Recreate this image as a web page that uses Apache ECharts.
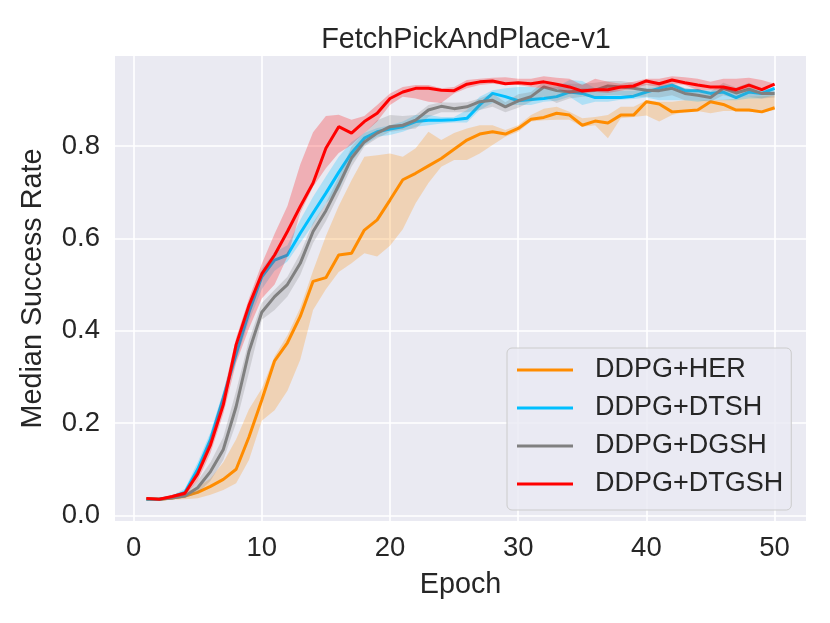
<!DOCTYPE html>
<html>
<head>
<meta charset="utf-8">
<script src="https://cdn.jsdelivr.net/npm/echarts@6/dist/echarts.min.js"></script>
<style>html,body{margin:0;padding:0;background:#fff}#c{width:830px;height:623px}</style>
</head>
<body>
<div id="c"></div>
<script>
const epochs = [1,2,3,4,5,6,7,8,9,10,11,12,13,14,15,16,17,18,19,20,21,22,23,24,25,26,27,28,29,30,31,32,33,34,35,36,37,38,39,40,41,42,43,44,45,46,47,48,49,50];
const xTicks = [0,10,20,30,40,50];
const yTicks = [0.0,0.2,0.4,0.6,0.8];

const herMid = [0.036,0.035,0.038,0.042,0.05,0.063,0.078,0.10,0.17,0.25,0.335,0.374,0.431,0.507,0.515,0.564,0.568,0.618,0.64,0.683,0.727,0.741,0.757,0.773,0.793,0.813,0.826,0.831,0.826,0.838,0.858,0.862,0.871,0.867,0.845,0.854,0.85,0.867,0.867,0.896,0.891,0.874,0.876,0.878,0.896,0.89,0.878,0.878,0.874,0.883];
const herLow = [0.033,0.032,0.034,0.035,0.037,0.045,0.055,0.07,0.12,0.205,0.228,0.27,0.337,0.445,0.49,0.527,0.546,0.568,0.561,0.584,0.62,0.676,0.72,0.755,0.77,0.77,0.784,0.802,0.82,0.831,0.853,0.856,0.857,0.857,0.842,0.845,0.817,0.86,0.863,0.866,0.853,0.867,0.874,0.876,0.871,0.876,0.876,0.874,0.872,0.878];
const herHigh = [0.039,0.038,0.042,0.05,0.062,0.08,0.115,0.165,0.23,0.275,0.345,0.39,0.45,0.53,0.605,0.67,0.726,0.777,0.78,0.784,0.777,0.795,0.831,0.813,0.828,0.838,0.845,0.845,0.835,0.845,0.867,0.881,0.885,0.874,0.86,0.863,0.867,0.885,0.885,0.899,0.896,0.896,0.899,0.899,0.899,0.9,0.903,0.907,0.908,0.91];

const dtshMid = [0.035,0.035,0.04,0.05,0.10,0.165,0.255,0.35,0.44,0.517,0.553,0.564,0.611,0.655,0.698,0.743,0.785,0.817,0.831,0.837,0.842,0.853,0.856,0.856,0.857,0.86,0.889,0.914,0.907,0.898,0.901,0.903,0.907,0.917,0.914,0.905,0.905,0.905,0.908,0.917,0.925,0.932,0.92,0.92,0.914,0.917,0.905,0.917,0.914,0.925];
const dtshLow = [0.033,0.033,0.037,0.043,0.085,0.15,0.24,0.335,0.42,0.49,0.53,0.55,0.59,0.63,0.676,0.705,0.766,0.802,0.82,0.824,0.831,0.842,0.845,0.849,0.851,0.851,0.878,0.893,0.889,0.889,0.889,0.896,0.898,0.907,0.889,0.896,0.896,0.9,0.902,0.905,0.899,0.899,0.899,0.896,0.899,0.899,0.899,0.903,0.903,0.91];
const dtshHigh = [0.037,0.037,0.043,0.058,0.115,0.18,0.27,0.365,0.455,0.535,0.57,0.585,0.64,0.69,0.734,0.777,0.809,0.828,0.839,0.845,0.853,0.867,0.867,0.863,0.863,0.878,0.907,0.921,0.925,0.928,0.928,0.925,0.928,0.943,0.941,0.925,0.922,0.92,0.92,0.925,0.928,0.935,0.925,0.921,0.921,0.921,0.917,0.923,0.921,0.928];

const dgshMid = [0.035,0.035,0.038,0.042,0.06,0.095,0.143,0.236,0.355,0.44,0.474,0.5,0.546,0.615,0.66,0.715,0.774,0.809,0.828,0.842,0.845,0.856,0.878,0.886,0.881,0.885,0.896,0.899,0.885,0.898,0.907,0.928,0.92,0.917,0.921,0.921,0.93,0.928,0.925,0.921,0.92,0.925,0.914,0.91,0.905,0.925,0.915,0.923,0.914,0.914];
const dgshLow = [0.033,0.033,0.035,0.038,0.048,0.075,0.12,0.2,0.31,0.424,0.445,0.474,0.521,0.59,0.637,0.694,0.755,0.799,0.817,0.831,0.835,0.838,0.863,0.873,0.873,0.873,0.878,0.885,0.873,0.883,0.896,0.907,0.893,0.903,0.907,0.907,0.91,0.91,0.907,0.907,0.905,0.91,0.899,0.899,0.896,0.91,0.903,0.907,0.903,0.905];
const dgshHigh = [0.038,0.038,0.041,0.048,0.075,0.115,0.17,0.27,0.38,0.46,0.489,0.517,0.568,0.634,0.676,0.734,0.799,0.828,0.856,0.867,0.865,0.867,0.889,0.895,0.894,0.895,0.903,0.914,0.895,0.912,0.917,0.94,0.935,0.935,0.935,0.937,0.941,0.941,0.937,0.935,0.934,0.937,0.925,0.923,0.918,0.937,0.927,0.937,0.925,0.92];

const dtgshMid = [0.037,0.035,0.041,0.048,0.09,0.153,0.24,0.37,0.455,0.523,0.564,0.615,0.669,0.72,0.795,0.842,0.828,0.853,0.871,0.903,0.917,0.925,0.925,0.921,0.92,0.934,0.939,0.941,0.935,0.937,0.935,0.939,0.934,0.928,0.919,0.922,0.922,0.928,0.93,0.941,0.935,0.943,0.937,0.932,0.928,0.928,0.922,0.932,0.922,0.934];
const dtgshLow = [0.034,0.033,0.037,0.043,0.075,0.135,0.22,0.33,0.405,0.47,0.5,0.56,0.655,0.712,0.752,0.785,0.802,0.828,0.853,0.889,0.907,0.903,0.896,0.893,0.914,0.925,0.932,0.935,0.932,0.932,0.928,0.925,0.924,0.914,0.914,0.917,0.915,0.92,0.925,0.932,0.928,0.935,0.932,0.921,0.921,0.921,0.917,0.925,0.92,0.932];
const dtgshHigh = [0.04,0.038,0.044,0.053,0.1,0.17,0.265,0.385,0.47,0.545,0.61,0.67,0.76,0.83,0.865,0.868,0.857,0.865,0.889,0.914,0.928,0.932,0.932,0.925,0.928,0.943,0.946,0.948,0.949,0.946,0.946,0.951,0.948,0.946,0.932,0.946,0.939,0.935,0.939,0.946,0.946,0.951,0.949,0.946,0.939,0.946,0.946,0.948,0.943,0.935];

const names = ['DDPG+HER','DDPG+DTSH','DDPG+DGSH','DDPG+DTGSH'];
const colors = ['#FF8C00','#00BFFF','#808080','#FF0000'];
const bandColors = ['rgba(255,140,0,0.25)','rgba(0,191,255,0.25)','rgba(128,128,128,0.25)','rgba(255,0,0,0.25)'];
const mids = [herMid, dtshMid, dgshMid, dtgshMid];
const lows = [herLow, dtshLow, dgshLow, dtgshLow];
const highs = [herHigh, dtshHigh, dgshHigh, dtgshHigh];

const FONT = 'Liberation Sans, Arial, Helvetica, sans-serif';
const TXT = '#262626';

function bandSeries(k) {
  const lo = lows[k], hi = highs[k];
  return {
    type: 'custom',
    name: names[k] + ' band',
    silent: true,
    z: 1 + 2 * k,
    data: epochs.map((e, i) => [e, lo[i], hi[i]]),
    encode: { x: 0, y: [1, 2] },
    renderItem: function (params, api) {
      if (params.dataIndex !== 0) return null;
      const pts = [];
      for (let i = 0; i < epochs.length; i++) pts.push(api.coord([epochs[i], hi[i]]));
      for (let i = epochs.length - 1; i >= 0; i--) pts.push(api.coord([epochs[i], lo[i]]));
      return { type: 'polygon', shape: { points: pts }, style: { fill: bandColors[k], stroke: null } };
    }
  };
}
function lineSeries(k) {
  return {
    type: 'line',
    name: names[k],
    z: 2 + 2 * k,
    data: epochs.map((e, i) => [e, mids[k][i]]),
    showSymbol: false,
    symbol: 'none',
    animation: false,
    lineStyle: { color: colors[k], width: 3 },
    itemStyle: { color: colors[k] }
  };
}
const series = [];
for (let k = 0; k < 4; k++) { series.push(bandSeries(k)); series.push(lineSeries(k)); }

const chart = echarts.init(document.getElementById('c'), null, { renderer: 'canvas' });
chart.setOption({
  animation: false,
  backgroundColor: '#ffffff',
  textStyle: { fontFamily: FONT, color: TXT },
  title: {
    text: 'FetchPickAndPlace-v1',
    left: 461, top: 21, textAlign: 'center',
    textStyle: { fontFamily: FONT, fontSize: 28.8, fontWeight: 'normal', color: TXT }
  },
  grid: { left: 115, right: 24, top: 56, bottom: 102, show: true, backgroundColor: '#EAEAF2', borderWidth: 0, containLabel: false },
  xAxis: {
    type: 'value', min: -1.45, max: 52.45,
    name: 'Epoch', nameLocation: 'middle', nameGap: 50,
    nameTextStyle: { fontFamily: FONT, fontSize: 28.8, color: TXT },
    axisLine: { show: false },
    axisTick: { show: false, customValues: xTicks },
    axisLabel: { customValues: xTicks, fontFamily: FONT, fontSize: 27.5, color: TXT, margin: 13 },
    splitLine: { show: true, lineStyle: { color: '#ffffff', width: 1.6 } }
  },
  yAxis: {
    type: 'value', min: -0.012, max: 0.995,
    name: 'Median Success Rate', nameLocation: 'middle', nameGap: 67,
    nameTextStyle: { fontFamily: FONT, fontSize: 28.8, color: TXT },
    axisLine: { show: false },
    axisTick: { show: false, customValues: yTicks },
    axisLabel: { customValues: yTicks, fontFamily: FONT, fontSize: 27.5, color: TXT, margin: 15,
      formatter: v => Number(v).toFixed(1) },
    splitLine: { show: true, lineStyle: { color: '#ffffff', width: 1.6 } }
  },
  legend: {
    data: names.map(n => ({ name: n, icon: 'rect' })),
    orient: 'vertical',
    left: 507, top: 348,
    z: 20,
    padding: [7, 8, 11, 10],
    itemWidth: 56, itemHeight: 3, itemGap: 8,
    backgroundColor: 'rgba(234,234,242,0.8)',
    borderColor: '#cccccc', borderWidth: 1, borderRadius: 5,
    textStyle: { fontFamily: FONT, fontSize: 27, color: TXT, lineHeight: 30, padding: [0, 0, 0, 17] }
  },
  series: series
});
</script>
</body>
</html>
